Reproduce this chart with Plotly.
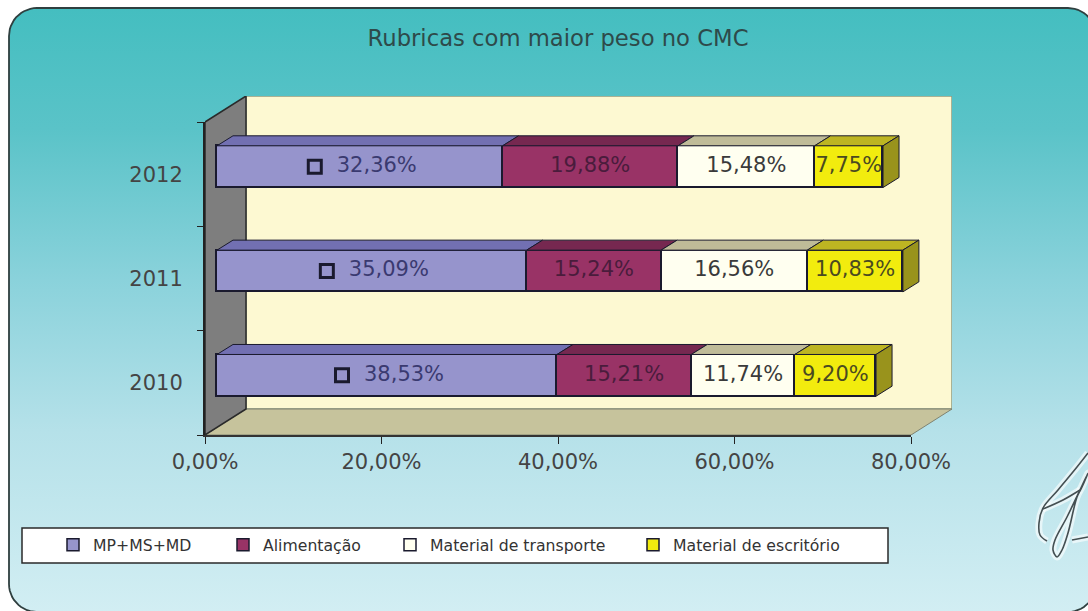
import numpy as np
import plotly.graph_objects as go

# ---- data ----
years = ["2010", "2011", "2012"]
mp_ms_md = [38.53, 35.09, 32.36]
alimentacao = [15.21, 15.24, 19.88]
transporte = [11.74, 16.56, 15.48]
escritorio = [9.20, 10.83, 7.75]
x_ticks = [0, 20, 40, 60, 80]
title_text = "Rubricas com maior peso no CMC"
series_names = ["MP+MS+MD", "Alimentação", "Material de transporte", "Material de escritório"]

# ---- style ----
W, H = 1088, 611
FONT = "DejaVu Sans"
front = ["#9694CC", "#993366", "#FFFFF0", "#F2EC0E"]
top = ["#7270B2", "#762850", "#BFBB98", "#BDB522"]
text_col = ["#3A3A70", "#4A1C3C", "#3A3A3A", "#4A4A20"]
edge = "#1A1A2E"
px_per_unit = (911 - 205) / 80
cat_px = (435 - 122) / 3
half = 0.2
bar_dx, bar_dy = 16 / px_per_unit, 10 / cat_px
wall_dx, wall_dy = 41 / px_per_unit, 26 / cat_px
bar_pad = 0.5  # room left of zero so the bars' left outline is not clipped


def fmt(v):
    return f"{v:.2f}%".replace(".", ",")


fig = go.Figure()

# --- panel with vertical gradient (pixel axes x / y) ---
L, T, R, B, r = 9, 8, 1096, 612, 28
ang = np.linspace(0, np.pi / 2, 14)
px = list(L + r - r * np.cos(ang)) + list(R - r + r * np.sin(ang)) + list(R - r + r * np.cos(ang)) + list(L + r - r * np.sin(ang))
py = list(T + r - r * np.sin(ang)) + list(T + r - r * np.cos(ang)) + list(B - r + r * np.sin(ang)) + list(B - r + r * np.cos(ang))
px.append(px[0])
py.append(py[0])
fig.add_trace(go.Scatter(
    x=px, y=py, mode="lines", fill="toself", hoverinfo="skip", showlegend=False,
    line=dict(color="#2F3F3F", width=1.8),
    fillgradient=dict(type="vertical", start=T, stop=B, colorscale=[
        [0, "#44BEC0"], [0.2, "#5AC3C8"], [0.45, "#8AD2DB"], [0.7, "#B5E1E9"], [1, "#D2EEF3"]]),
    xaxis="x", yaxis="y"))

# signature
sig = [
    ([1088, 1077, 1058, 1043, 1039, 1040, 1047], [453, 467, 490, 508, 523, 535, 541]),
    ([1043, 1063, 1080], [509, 500, 490]),
    ([1088, 1080, 1067, 1055, 1053, 1057, 1062, 1068, 1077, 1082, 1088], [473, 490, 517, 540, 550, 557, 550, 533, 497, 487, 473]),
    ([1072, 1088], [540, 537]),
]
for sx, sy in sig:
    fig.add_trace(go.Scatter(x=sx, y=sy, mode="lines", hoverinfo="skip", showlegend=False,
                             line=dict(color="rgba(255,255,255,0.6)", width=7, shape="spline"), xaxis="x", yaxis="y"))
for sx, sy in sig:
    fig.add_trace(go.Scatter(x=sx, y=sy, mode="lines", hoverinfo="skip", showlegend=False,
                             line=dict(color="#444F52", width=1.6, shape="spline"), xaxis="x", yaxis="y"))


# --- 3D chart box on the axes x2 / y2 (front axis range + depth) ---
def poly(xs, ys, fillc, linec="#55584A", width=1.0):
    fig.add_trace(go.Scatter(x=xs, y=ys, mode="lines", fill="toself", fillcolor=fillc, hoverinfo="skip",
                             showlegend=False, cliponaxis=False, line=dict(color=linec, width=width),
                             xaxis="x2", yaxis="y2"))


ymax = len(years)
xmax = x_ticks[-1]
poly([wall_dx, xmax + wall_dx, xmax + wall_dx, wall_dx, wall_dx],
     [wall_dy, wall_dy, ymax + wall_dy, ymax + wall_dy, wall_dy], "#FDF9D2", "#8F9A80", 1.5)
poly([0, xmax, xmax + wall_dx, wall_dx, 0], [0, 0, wall_dy, wall_dy, 0], "#C6C39C", "#7F8270")
poly([0, wall_dx, wall_dx, 0, 0], [0, wall_dy, ymax + wall_dy, ymax, 0], "#7E7E7E", "#2A2A2A", 1.5)

# front axes x3 / y3 need a trace of their own to be drawn
fig.add_trace(go.Scatter(x=[x_ticks[0], x_ticks[-1]], y=[0, ymax], mode="lines", line=dict(width=0, color="rgba(0,0,0,0)"),
                         hoverinfo="skip", showlegend=False, xaxis="x3", yaxis="y3"))

# --- bars on the axes x4 / y4 (shifted into the depth of the box) ---
series = [mp_ms_md, alimentacao, transporte, escritorio]
pos = np.arange(len(years)) + 0.5
legend_ids = ["legend", "legend2", "legend3", "legend4"]
base = np.zeros(len(years))
for i, vals in enumerate(series):
    vals = np.array(vals)
    fig.add_trace(go.Bar(x=vals, y=pos, orientation="h", width=2 * half, name=series_names[i],
                         marker=dict(color=front[i], line=dict(color=edge, width=1.5)),
                         legend=legend_ids[i], xaxis="x4", yaxis="y4", hoverinfo="skip"))
    tx, ty = [], []
    for b, v, p in zip(base, vals, pos):
        tx += [b, b + v, b + v + bar_dx, b + bar_dx, b, None]
        ty += [p + half, p + half, p + half + bar_dy, p + half + bar_dy, p + half, None]
    fig.add_trace(go.Scatter(x=tx, y=ty, mode="lines", fill="toself", fillcolor=top[i], hoverinfo="skip",
                             showlegend=False, cliponaxis=False, line=dict(color=edge, width=1),
                             xaxis="x4", yaxis="y4"))
    mids = base + vals / 2
    label_x = mids + (17 / px_per_unit if i == 0 else 0)
    fig.add_trace(go.Scatter(x=label_x, y=pos, mode="text", text=[fmt(v) for v in vals],
                             textposition="middle center", hoverinfo="skip", showlegend=False, cliponaxis=False,
                             textfont=dict(family=FONT, size=21, color=text_col[i]),
                             xaxis="x4", yaxis="y4"))
    if i == 0:
        fig.add_trace(go.Scatter(x=mids - 45 / px_per_unit, y=pos, mode="markers", hoverinfo="skip", showlegend=False,
                                 marker=dict(symbol="square-open", size=13, color=edge, line=dict(color=edge, width=3)),
                                 xaxis="x4", yaxis="y4"))
    base = base + vals

# end faces of the last series
sx, sy = [], []
for e, p in zip(base, pos):
    sx += [e, e + bar_dx, e + bar_dx, e, e, None]
    sy += [p - half, p - half + bar_dy, p + half + bar_dy, p + half, p - half, None]
fig.add_trace(go.Scatter(x=sx, y=sy, mode="lines", fill="toself", fillcolor="#99931C", hoverinfo="skip",
                         showlegend=False, cliponaxis=False, line=dict(color=edge, width=1),
                         xaxis="x4", yaxis="y4"))

# --- layout ---
legend_x = [53, 223, 390, 633]
legends = {}
for lid, lx in zip(legend_ids, legend_x):
    legends[lid] = dict(x=lx / W, y=1 - 545 / H, xanchor="left", yanchor="middle", orientation="h",
                        bgcolor="rgba(0,0,0,0)", borderwidth=0,
                        font=dict(family=FONT, size=15.7, color="#333333"))

fig.update_layout(
    width=W, height=H, margin=dict(l=0, r=0, t=0, b=0, autoexpand=False), autosize=False,
    paper_bgcolor="white", plot_bgcolor="rgba(0,0,0,0)", barmode="stack", bargap=0,
    title=dict(text=title_text, x=558 / W, xanchor="center", y=1 - 38 / H, yanchor="middle", automargin=False,
               font=dict(family=FONT, size=22.7, color="#2E4A4A")),
    xaxis=dict(domain=[0, 1], range=[0, W], visible=False, fixedrange=True),
    yaxis=dict(domain=[0, 1], range=[H, 0], visible=False, fixedrange=True),
    xaxis2=dict(domain=[205 / W, (911 + 41) / W], range=[0, xmax + wall_dx], anchor="y2", visible=False, fixedrange=True),
    yaxis2=dict(domain=[1 - 435 / H, 1 - (122 - 26) / H], range=[0, ymax + wall_dy], anchor="x2", visible=False, fixedrange=True),
    xaxis3=dict(domain=[205 / W, 911 / W], range=[0, xmax], anchor="y3", tickvals=x_ticks,
                ticktext=[fmt(v) for v in x_ticks], ticks="outside", ticklen=7, tickcolor="#222",
                tickfont=dict(family=FONT, size=21, color="#444"), showgrid=False, zeroline=False,
                showline=True, linecolor="#333", linewidth=2, fixedrange=True),
    yaxis3=dict(domain=[1 - 435 / H, 1 - 122 / H], range=[0, ymax], anchor="x3",
                tickvals=list(pos), ticktext=years, ticks="", ticklabelstandoff=16,
                tickfont=dict(family=FONT, size=21, color="#444"), showgrid=False, zeroline=False,
                showline=True, linecolor="#222", linewidth=2, fixedrange=True,
                minor=dict(tickvals=list(range(ymax + 1)), ticks="outside", ticklen=6, tickcolor="#222", showgrid=False)),
    xaxis4=dict(domain=[(217 - bar_pad * px_per_unit) / W, 923 / W], range=[-bar_pad, xmax], anchor="y4", visible=False, fixedrange=True),
    yaxis4=dict(domain=[1 - 427.5 / H, 1 - 114.5 / H], range=[0, ymax], anchor="x4", visible=False, fixedrange=True),
    shapes=[dict(type="rect", xref="x", yref="y", x0=22, x1=888, y0=528, y1=563, layer="above",
                 fillcolor="white", line=dict(color="#2A2A2A", width=1.5))],
    **legends,
)

fig.write_html("out.html", config={"displayModeBar": False}, post_script="document.body.style.margin='0';")
